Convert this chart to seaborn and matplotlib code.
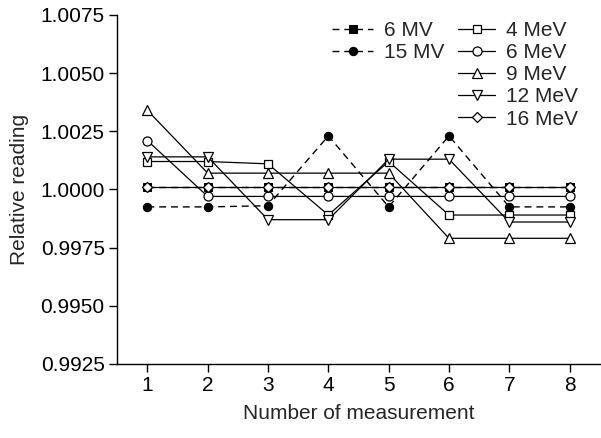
import numpy as np
import pandas as pd
import matplotlib
matplotlib.use("Agg")
import matplotlib.pyplot as plt
import seaborn as sns

# data
measurement = [1, 2, 3, 4, 5, 6, 7, 8]
mv6 = [1.0001, 1.0001, 1.0001, 1.0001, 1.0001, 1.0001, 1.0001, 1.0001]
mv15 = [0.99925, 0.99925, 0.99930, 1.0023, 0.99925, 1.0023, 0.99925, 0.99925]
mev4 = [1.0012, 1.0012, 1.0011, 0.9989, 1.0012, 0.9989, 0.9989, 0.9989]
mev6 = [1.0021, 0.9997, 0.9997, 0.9997, 0.9997, 0.9997, 0.9997, 0.9997]
mev9 = [1.0034, 1.0007, 1.0007, 1.0007, 1.0007, 0.9979, 0.9979, 0.9979]
mev12 = [1.0014, 1.0014, 0.9987, 0.9987, 1.0013, 1.0013, 0.9986, 0.9986]
mev16 = [1.0001, 1.0001, 1.0001, 1.0001, 1.0001, 1.0001, 1.0001, 1.0001]

y_ticks = [0.9925, 0.9950, 0.9975, 1.0000, 1.0025, 1.0050, 1.0075]

photons = [("6 MV", mv6, "s"), ("15 MV", mv15, "o")]
electrons = [("4 MeV", mev4, "s"), ("6 MeV", mev6, "o"), ("9 MeV", mev9, "^"),
             ("12 MeV", mev12, "v"), ("16 MeV", mev16, "D")]

sns.set_style("ticks")
plt.rcParams['font.family'] = ['Liberation Sans', 'DejaVu Sans']
plt.rcParams['font.size'] = 15

fig = plt.figure(figsize=(6.01, 4.38), dpi=100)
ax = fig.add_axes([0.195, 0.169, 0.803, 0.797])

h_ph = []
for name, vals, m in photons:
    sns.lineplot(x=measurement, y=vals, ax=ax, color="black", lw=1.0,
                 marker=m, markersize=6 if m == "o" else 5.5,
                 markerfacecolor="black", markeredgecolor="black",
                 dashes=(5, 3.5), label=name, legend=False)
    h_ph.append(ax.lines[-1])

h_el = []
for name, vals, m in electrons:
    ms = {"s": 5.5, "o": 6.5, "^": 6.5, "v": 6.5, "D": 5.5}[m]
    sns.lineplot(x=measurement, y=vals, ax=ax, color="black", lw=0.9,
                 marker=m, markersize=ms, markerfacecolor="white",
                 markeredgecolor="black", markeredgewidth=0.9,
                 label=name, legend=False)
    h_el.append(ax.lines[-1])

ax.set_xlim(0.5, 8.5)
ax.set_ylim(0.9925, 1.0075)
ax.set_xticks(measurement)
ax.set_yticks(y_ticks)
ax.set_yticklabels([f"{t:.4f}" for t in y_ticks])
ax.set_xlabel("Number of measurement", fontsize=15, labelpad=6)
ax.set_ylabel("Relative reading", fontsize=15, labelpad=8)
ax.tick_params(direction="out", length=6, width=1, colors="black",
               labelsize=15, pad=3)
for s in ["left", "bottom"]:
    ax.spines[s].set_color("black")
    ax.spines[s].set_linewidth(1.0)
sns.despine(ax=ax)

# two separate legend blocks, photons left and electrons right
fig.legend(h_ph, [p[0] for p in photons], loc="upper left",
           bbox_to_anchor=(0.552, 0.952), bbox_transform=fig.transFigure,
           frameon=False, fontsize=15, borderpad=0, borderaxespad=0,
           handlelength=2.0, handletextpad=0.5, labelspacing=0.15)
fig.legend(h_el, [e[0] for e in electrons], loc="upper left",
           bbox_to_anchor=(0.762, 0.952), bbox_transform=fig.transFigure,
           frameon=False, fontsize=15, borderpad=0, borderaxespad=0,
           handlelength=1.8, handletextpad=0.5, labelspacing=0.15)

fig.savefig("out.png", dpi=100)
